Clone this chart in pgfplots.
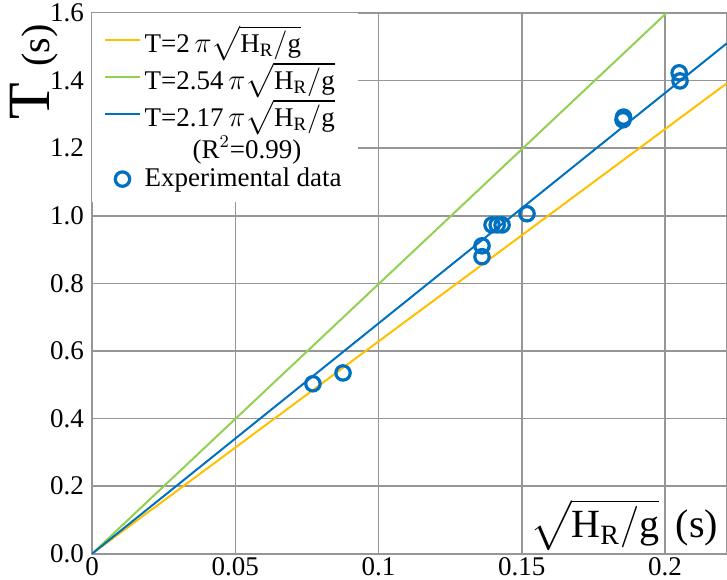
\documentclass[border=0pt]{standalone}
\usepackage{amsmath}
\usepackage{fontspec}
\setmainfont{Liberation Serif}
\usepackage{pgfplots}
\pgfplotsset{compat=1.18}
\definecolor{cyel}{RGB}{255,192,0}
\definecolor{cgrn}{RGB}{146,208,80}
\definecolor{cblu}{RGB}{0,112,192}
\definecolor{cgrid}{RGB}{150,150,150}
\newcommand{\sq}{\sqrt{\text{H}_\text{R}/\text{g}}}
\begin{document}
\begin{tikzpicture}
\begin{axis}[
    scale only axis,
    width=317.5pt, height=270.4pt,
    xmin=0, xmax=0.2216,
    ymin=0, ymax=1.6,
    xtick={0,0.05,0.1,0.15,0.2},
    xticklabels={0,0.05,0.1,0.15,0.2},
    ytick={0,0.2,0.4,0.6,0.8,1.0,1.2,1.4,1.6},
    yticklabels={0.0,0.2,0.4,0.6,0.8,1.0,1.2,1.4,1.6},
    /pgf/number format/assume math mode=true,
    tick label style={font=\fontsize{13.5}{15}\selectfont},
    xticklabel style={yshift=1.5pt},
    yticklabel style={xshift=-0.5pt},
    major tick length=0pt,
    grid=major,
    grid style={cgrid, line width=0.75pt},
    axis line style={cgrid, line width=0.75pt},
    clip=true,
    legend style={at={(0,1)}, anchor=north west, draw=none, fill=white,
        font=\fontsize{13.5}{16}\selectfont, row sep=-0.5pt,
        inner xsep=6pt, inner ysep=4pt},
    legend cell align=left,
]
\addplot[cyel, line width=1pt] coordinates {(0,0) (0.2216,1.3923)};
\addlegendentry{T=2$\,\pi\sq$}
\addplot[cgrn, line width=1pt] coordinates {(0,0) (0.2005,1.6)};
\addlegendentry{T=2.54$\,\pi\sq$}
\addplot[cblu, line width=1pt] coordinates {(0,0) (0.2216,1.5107)};
\addlegendentry{T=2.17$\,\pi\sq$}
\addlegendimage{empty legend}
\addlegendentry{\hspace*{24pt}(R$^2$=0.99)}
\addplot[only marks, mark=o, mark size=3.6pt, cblu, line width=1.6pt] coordinates {
    (0.0771,0.503)
    (0.0876,0.535)
    (0.1361,0.879)
    (0.1361,0.911)
    (0.1396,0.973)
    (0.1414,0.973)
    (0.1431,0.973)
    (0.1518,1.006)
    (0.1853,1.284)
    (0.1855,1.292)
    (0.2049,1.423)
    (0.2052,1.399)
};
\addlegendentry{Experimental data}
\coordinate (bl) at (rel axis cs:0,0);
\coordinate (tr) at (rel axis cs:1,1);
\end{axis}
\node[rotate=90, anchor=center] at ([xshift=-29pt, yshift=-29.5pt]bl |- tr)
    {\fontsize{30}{32}\selectfont T\;\fontsize{20}{22}\selectfont(s)};
\node[anchor=center] at ([xshift=266pt, yshift=14.5pt]bl)
    {\fontsize{20}{22}\selectfont $\sq$ \,(s)};
\pgfresetboundingbox
\path[use as bounding box] ([xshift=-46pt, yshift=-13pt]bl) rectangle ([yshift=6.5pt]tr);
\end{tikzpicture}
\end{document}
